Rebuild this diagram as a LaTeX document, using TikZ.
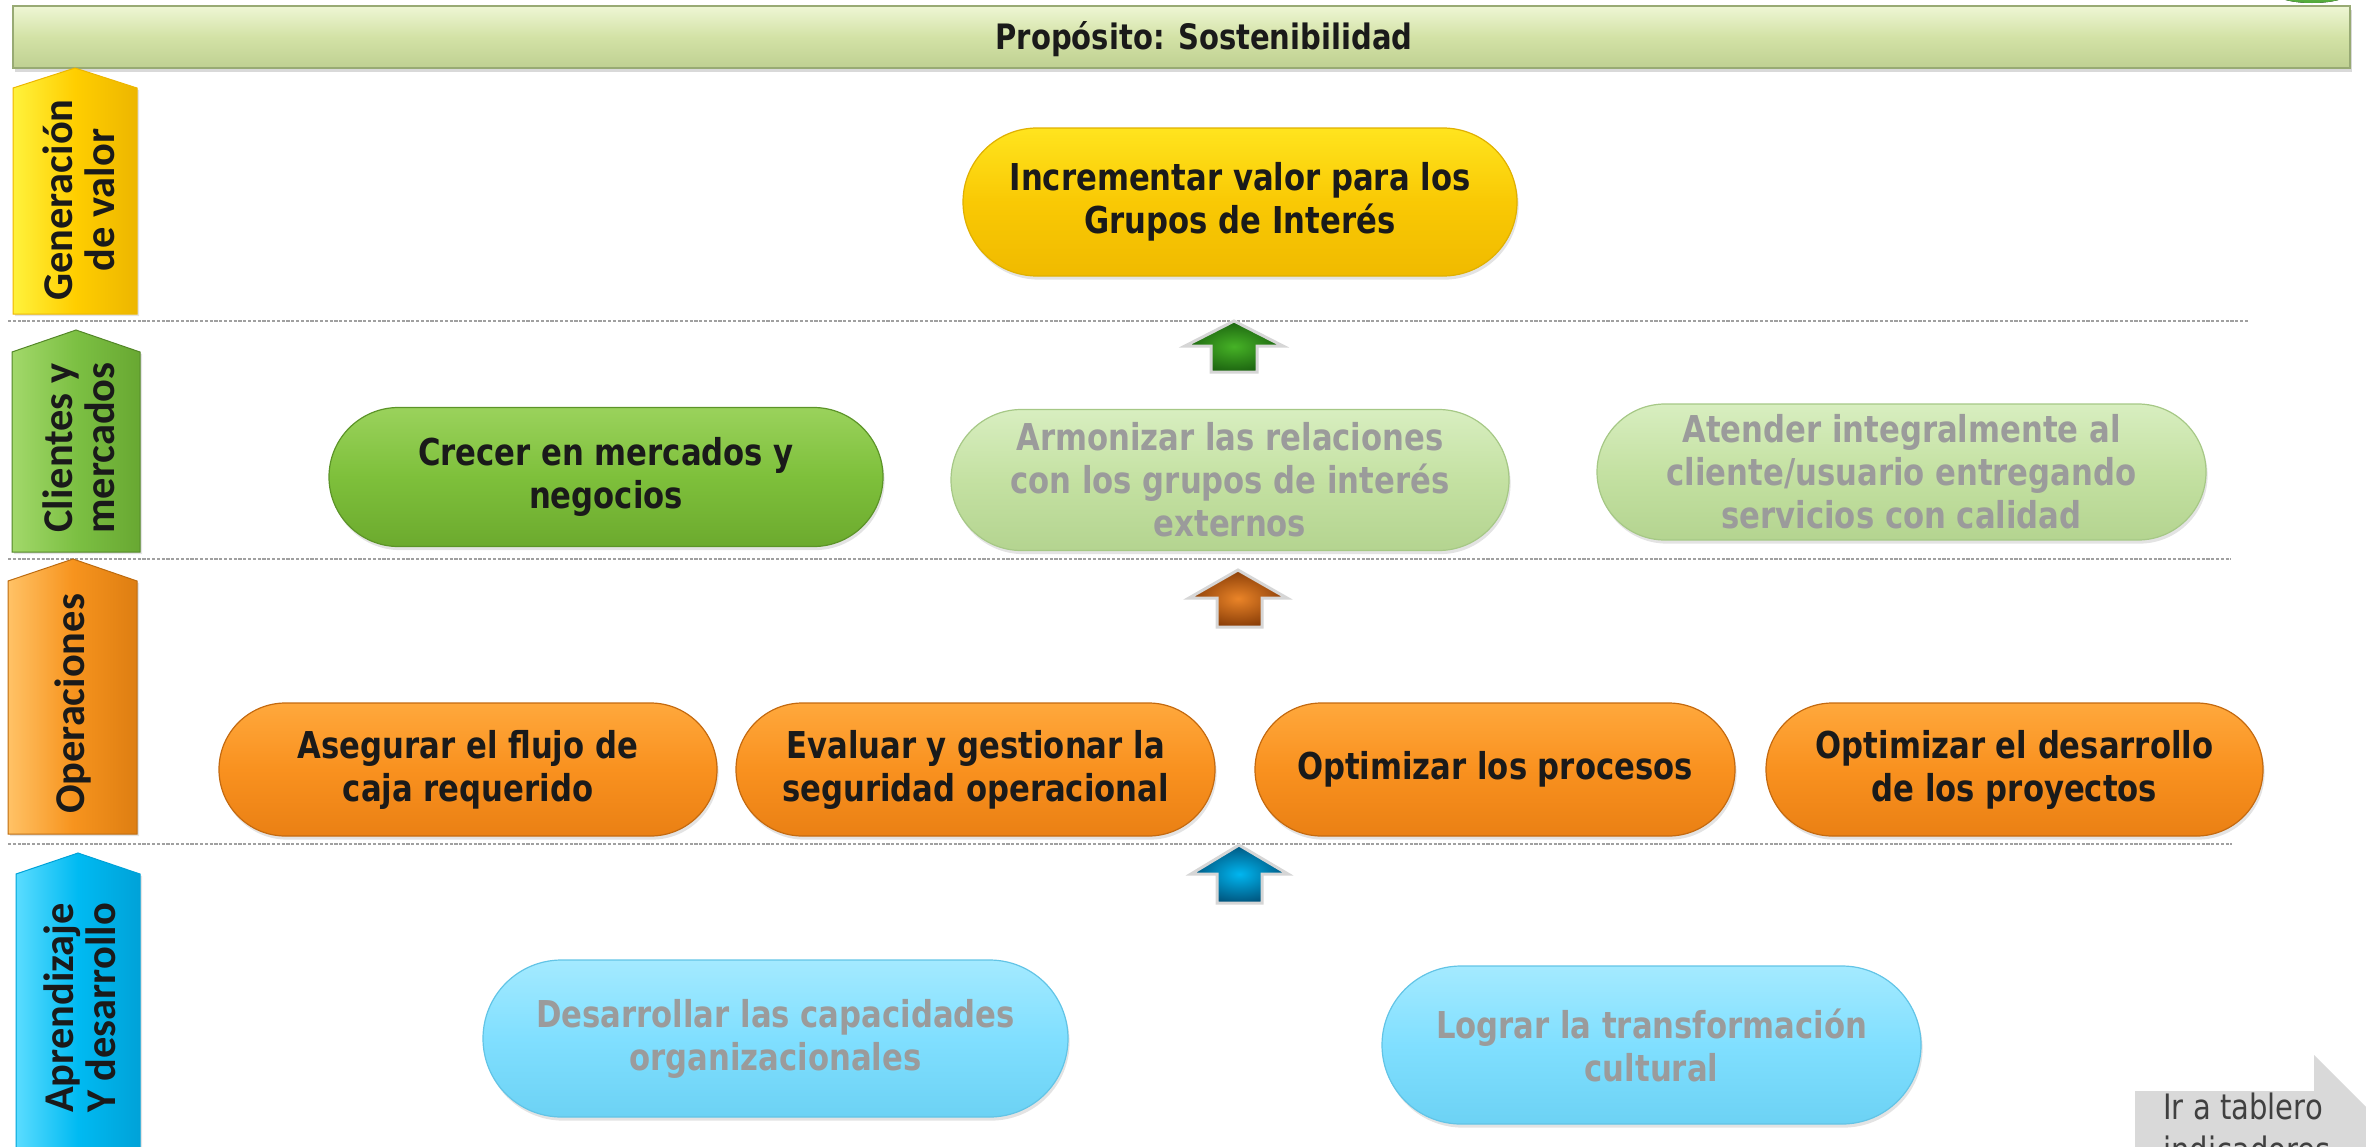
\documentclass[tikz,border=0pt]{standalone}
\usepackage{fontspec}
\setmainfont[FakeStretch=0.83]{DejaVu Sans}
\newfontfamily\carlitofont{Carlito}
\usetikzlibrary{shadows}

\definecolor{txtdark}{HTML}{1A1A1A}
\definecolor{txtgrey}{HTML}{9B9B9B}
\definecolor{barMid}{HTML}{D3E2A6}
\definecolor{barTop}{HTML}{EEF6D4}
\definecolor{barBot}{HTML}{BFD092}
\definecolor{barLine}{HTML}{98AA74}
% pills
\definecolor{ypTop}{HTML}{FFE41E}
\definecolor{ypMid}{HTML}{F9C904}
\definecolor{ypBot}{HTML}{F0BA00}
\definecolor{ypLine}{HTML}{E0B000}
\definecolor{gpTop}{HTML}{9AD25C}
\definecolor{gpMid}{HTML}{7EC03B}
\definecolor{gpBot}{HTML}{6CAA2E}
\definecolor{gpLine}{HTML}{5C9428}
\definecolor{lgTop}{HTML}{D8EEC0}
\definecolor{lgMid}{HTML}{C4E1A2}
\definecolor{lgBot}{HTML}{B4D490}
\definecolor{lgLine}{HTML}{A6C886}
\definecolor{opTop}{HTML}{FFA83C}
\definecolor{opMid}{HTML}{F9911F}
\definecolor{opBot}{HTML}{EA8014}
\definecolor{opLine}{HTML}{C46A10}
\definecolor{lbTop}{HTML}{A4EAFF}
\definecolor{lbMid}{HTML}{80DFFF}
\definecolor{lbBot}{HTML}{6CD2F4}
\definecolor{lbLine}{HTML}{62C4E6}
% side arrows
\definecolor{yaL}{HTML}{FFF23C}
\definecolor{yaM}{HTML}{FFCE00}
\definecolor{yaR}{HTML}{EDB600}
\definecolor{gaL}{HTML}{A2D86A}
\definecolor{gaM}{HTML}{7CC043}
\definecolor{gaR}{HTML}{68A832}
\definecolor{oaL}{HTML}{FFC266}
\definecolor{oaM}{HTML}{F7941E}
\definecolor{oaR}{HTML}{DE7E12}
\definecolor{baL}{HTML}{5ADCFF}
\definecolor{baM}{HTML}{00BAF2}
\definecolor{baR}{HTML}{00A2D8}
% up arrows
\definecolor{ugIn}{HTML}{46B226}
\definecolor{ugOut}{HTML}{1C6410}
\definecolor{uoIn}{HTML}{EA8428}
\definecolor{uoOut}{HTML}{8A3E08}
\definecolor{ubIn}{HTML}{00B6F0}
\definecolor{ubOut}{HTML}{00557E}
\definecolor{arrLine}{HTML}{D6D6D6}
\definecolor{dashgrey}{HTML}{A0A0A0}
\definecolor{irFill}{HTML}{D9D9D9}
\definecolor{irText}{HTML}{404040}
\definecolor{blobTop}{HTML}{8CD060}
\definecolor{blobBot}{HTML}{4FA83A}

\newcommand\pillfont{\fontsize{18.5pt}{21.5pt}\selectfont\bfseries}
\newcommand\titlefont{\fontsize{17.5pt}{20pt}\selectfont\bfseries}
\newcommand\lblfont{\carlitofont\fontsize{21.2pt}{21pt}\selectfont\bfseries}
\newcommand\irfont{\fontsize{17.5pt}{21.5pt}\selectfont}

\begin{document}
\begin{tikzpicture}[x=0.5pt,y=-0.5pt,
  pill/.style={rectangle, inner sep=0pt, align=center, font=\pillfont, line width=0.6pt,
    drop shadow={opacity=0.22, shadow xshift=0.8pt, shadow yshift=-1.8pt}},
  yp/.style={pill, text=txtdark, draw=ypLine, top color=ypTop, bottom color=ypBot, middle color=ypMid},
  gp/.style={pill, text=txtdark, draw=gpLine, top color=gpTop, bottom color=gpBot, middle color=gpMid},
  lgp/.style={pill, text=txtgrey, draw=lgLine, top color=lgTop, bottom color=lgBot, middle color=lgMid},
  op/.style={pill, text=txtdark, draw=opLine, top color=opTop, bottom color=opBot, middle color=opMid},
  lbp/.style={pill, text=txtgrey, draw=lbLine, top color=lbTop, bottom color=lbBot, middle color=lbMid},
  sidearrow/.style={line width=0.5pt, drop shadow={opacity=0.22, shadow xshift=1pt, shadow yshift=-1pt}},
  sidelbl/.style={rotate=90, align=center, font=\lblfont, text=txtdark, inner sep=0pt},
  uparr/.style={draw=arrLine, line width=1.5pt, line join=miter},
  sepline/.style={draw=dashgrey, line width=0.9pt, dash pattern=on 1.6pt off 0.8pt},
]
\useasboundingbox (0,0) rectangle (2366,1146);
\clip (0,0) rectangle (2366,1146);

% small green shape at top right
\fill[top color=blobTop, bottom color=blobBot] (2312,-9) ellipse [x radius=20pt, y radius=6pt];

% purpose bar
\node[rectangle, draw=barLine, line width=0.6pt, top color=barTop, bottom color=barBot, middle color=barMid,
      minimum width=1168.5pt, minimum height=31pt, inner sep=0pt,
      drop shadow={opacity=0.3, shadow xshift=1pt, shadow yshift=-2pt}] (topbar) at (1181.5,37) {};
\node[font=\titlefont, text=txtdark, inner sep=0pt] (title) at (1204,39) {Propósito: Sostenibilidad};

% separating dashed lines
\draw[sepline] (8,321) -- (2248,321);
\draw[sepline] (8,559) -- (2231,559);
\draw[sepline] (8,844) -- (2232,844);

% side perspective arrows
\path[sidearrow, draw=yaR, left color=yaL, right color=yaR, middle color=yaM]
  (13,88) -- (75,68) -- (137,88) -- (137,314) -- (13,314) -- cycle;
\node[sidelbl] (lgen) at (79,200) {Generación\\de valor};

\path[sidearrow, draw=gaR!80!black, left color=gaL, right color=gaR, middle color=gaM]
  (12,352) -- (76,330) -- (140,352) -- (140,552) -- (12,552) -- cycle;
\node[sidelbl] (lcli) at (79,448) {Clientes y\\mercados};

\path[sidearrow, draw=oaR!85!black, left color=oaL, right color=oaR, middle color=oaM]
  (8,581) -- (73,559) -- (137,581) -- (137,834) -- (8,834) -- cycle;
\node[sidelbl] (lope) at (73,704) {Operaciones};

\path[sidearrow, draw=baR, left color=baL, right color=baR, middle color=baM]
  (16,874) -- (78,853) -- (140,874) -- (140,1170) -- (16,1170) -- cycle;
\node[sidelbl] (lapr) at (80,1008) {Aprendizaje\\Y desarrollo};

% objectives
\node[yp, minimum width=277pt, minimum height=74pt, rounded corners=37pt] (incr) at (1240,202)
  {Incrementar valor para los\\Grupos de Interés};

\node[gp, minimum width=277pt, minimum height=69.5pt, rounded corners=34.75pt] (crec) at (606,477)
  {Crecer en mercados y\\negocios};
\node[lgp, minimum width=279pt, minimum height=70.5pt, rounded corners=35.25pt] (armo) at (1230,480)
  {Armonizar las relaciones\\con los grupos de interés\\externos};
\node[lgp, minimum width=304.5pt, minimum height=68pt, rounded corners=34pt] (aten) at (1901.5,472)
  {Atender integralmente al\\cliente/usuario entregando\\servicios con calidad};

\node[op, minimum width=249pt, minimum height=66.5pt, rounded corners=33.25pt] (aseg) at (468,769.5)
  {Asegurar el flujo de\\caja requerido};
\node[op, minimum width=239.5pt, minimum height=66.5pt, rounded corners=33.25pt] (eval) at (975.5,769.5)
  {Evaluar y gestionar la\\seguridad operacional};
\node[op, minimum width=240pt, minimum height=66.5pt, rounded corners=33.25pt] (proc) at (1495,769.5)
  {Optimizar los procesos};
\node[op, minimum width=248.5pt, minimum height=66.5pt, rounded corners=33.25pt] (proy) at (2014.5,769.5)
  {Optimizar el desarrollo\\de los proyectos};

\node[lbp, minimum width=292.5pt, minimum height=78.5pt, rounded corners=39.25pt] (capa) at (775.5,1038.5)
  {Desarrollar las capacidades\\organizacionales};
\node[lbp, minimum width=269.5pt, minimum height=79pt, rounded corners=39.5pt] (cult) at (1651.5,1045)
  {Lograr la transformación\\cultural};

% up arrows between perspectives
\path[uparr, inner color=ugIn, outer color=ugOut]
  (1234,321) -- ++(49,25) -- ++(-26,0) -- ++(0,26) -- ++(-46,0) -- ++(0,-26) -- ++(-26,0) -- cycle;
\path[uparr, inner color=uoIn, outer color=uoOut]
  (1238,570) -- ++(49,28) -- ++(-25,0) -- ++(0,29) -- ++(-45,0) -- ++(0,-29) -- ++(-28,0) -- cycle;
\path[uparr, inner color=ubIn, outer color=ubOut]
  (1239,845) -- ++(49,29) -- ++(-26,0) -- ++(0,29) -- ++(-45,0) -- ++(0,-29) -- ++(-26,0) -- cycle;

% link to indicators board
\fill[irFill] (2135,1091) -- (2314,1091) -- (2314,1055) -- (2430,1171) -- (2430,1220) -- (2135,1220) -- cycle;
\node[anchor=base west, align=left, font=\irfont, text=irText, inner sep=0pt] (irtab) at (2163,1162)
  {Ir a tablero\\indicadores};
\end{tikzpicture}
\end{document}
